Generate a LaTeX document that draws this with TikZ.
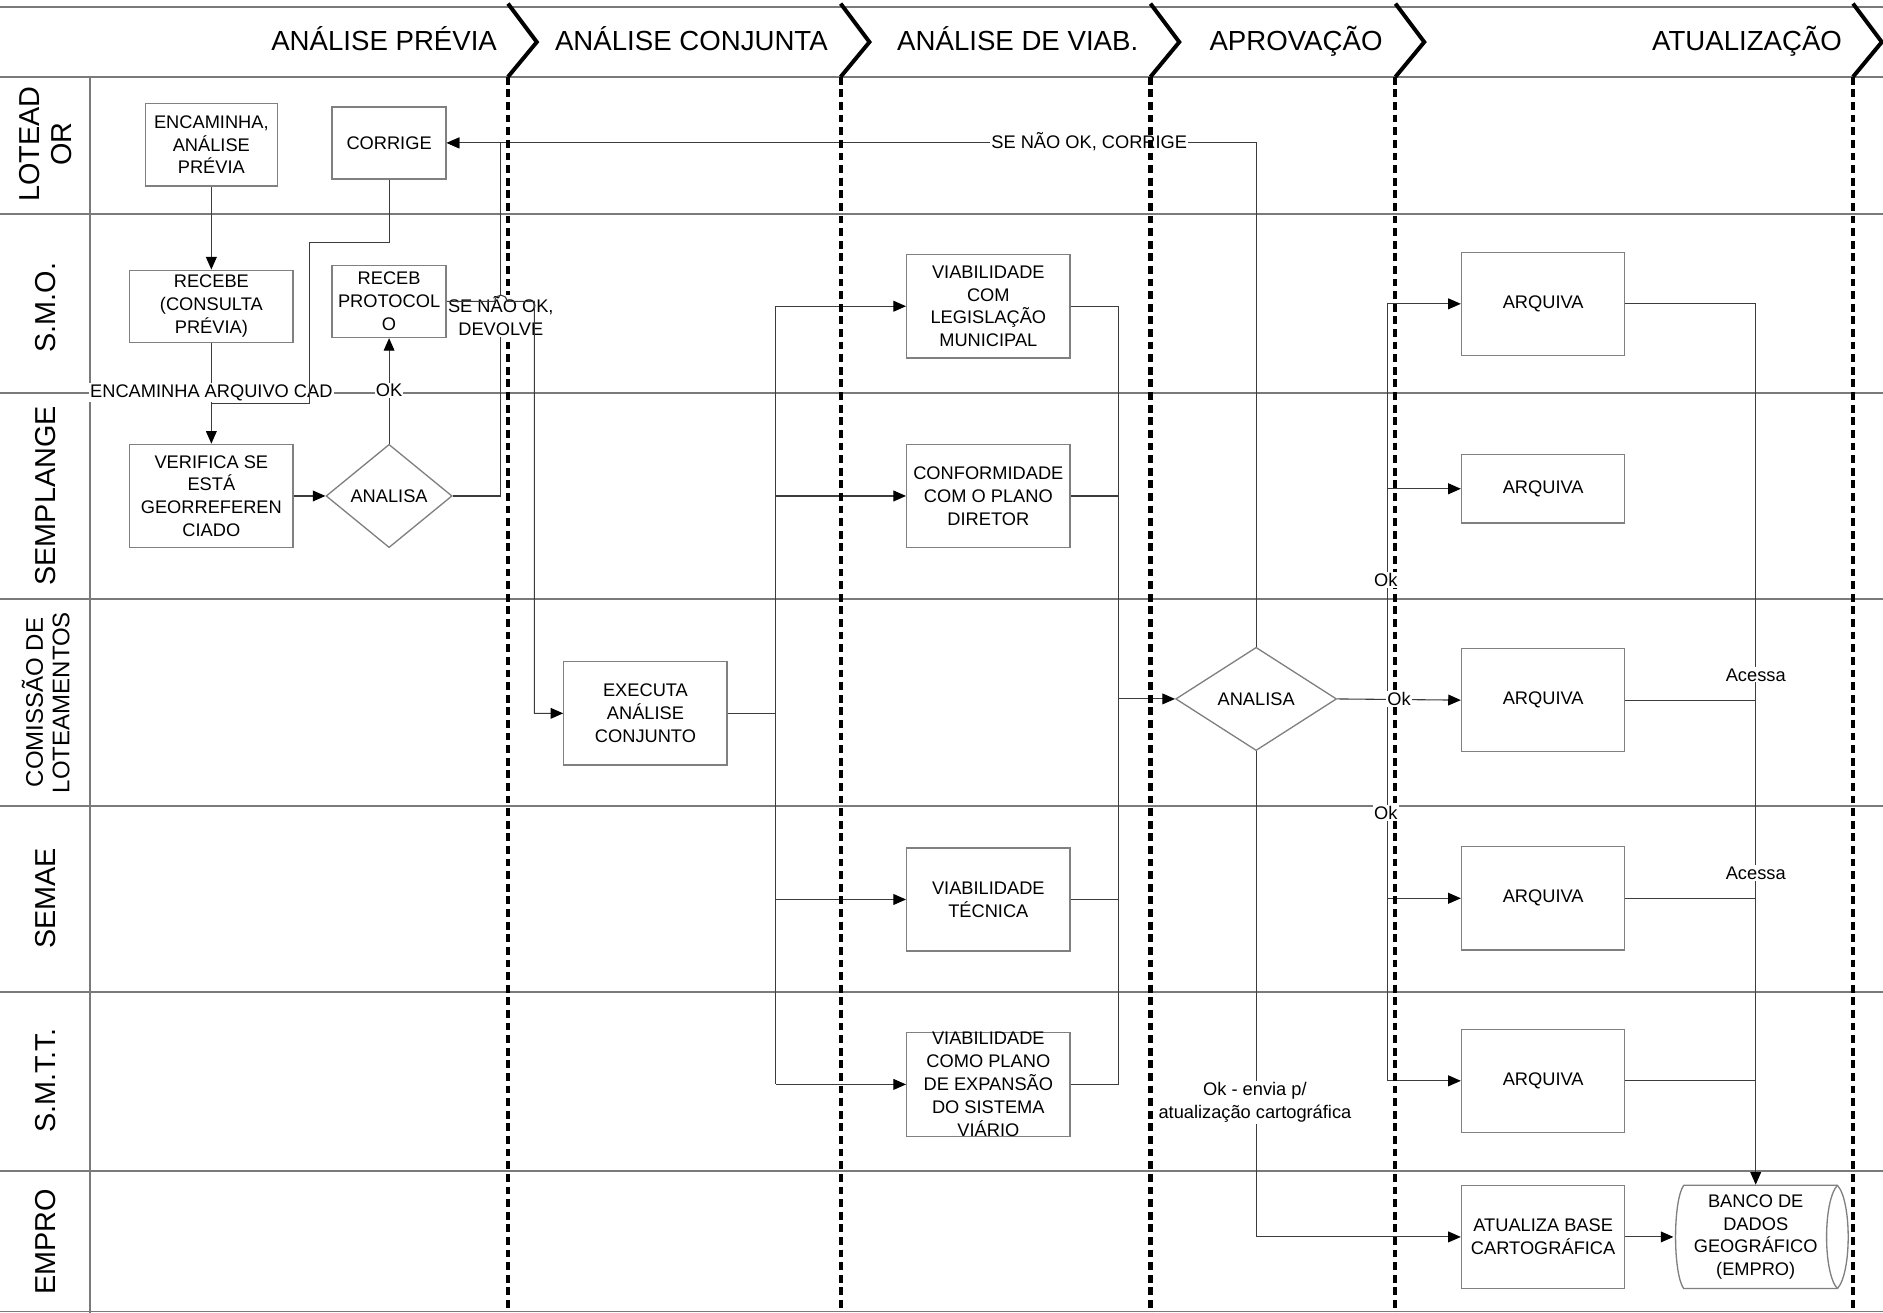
\documentclass[tikz,border=0pt]{standalone}
\usepackage{fontspec}
\setmainfont{Liberation Sans}
\usetikzlibrary{arrows.meta,shapes.geometric}
\definecolor{lanegray}{HTML}{7A7A7A}
\definecolor{boxgray}{HTML}{808080}
\definecolor{conngray}{HTML}{3C3C3C}
\newcommand\mybody{\fontsize{15.2}{19}\selectfont}
\newcommand\myhead{\fontsize{23}{27}\selectfont}
\newcommand\mylane{\fontsize{24}{26}\selectfont}
\newcommand\mylanesm{\fontsize{20}{22}\selectfont}
\tikzset{
  lane/.style={draw=lanegray, line width=1.4pt},
  box/.style={draw=boxgray, line width=1.1pt, rectangle, inner sep=0pt, align=center, font=\mybody},
  dia/.style={draw=boxgray, line width=1.1pt, diamond, inner sep=0pt, align=center, font=\mybody},
  conn/.style={draw=conngray, line width=0.9pt},
  arr/.style={conn, -{Triangle[length=10.5pt,width=9pt,color=black]}},
  chev/.style={line width=3.3pt, black, line join=miter},
  phase/.style={line width=3.4pt, black, dash pattern=on 6.5pt off 4pt},
  lbl/.style={fill=white, inner sep=1pt, font=\mybody, align=center},
  lanelbl/.style={rotate=90, align=center, inner sep=0pt},
  headlbl/.style={inner sep=0pt, font=\myhead}
}
\begin{document}
\begin{tikzpicture}[x=1pt,y=-1pt]
\useasboundingbox (0,0) rectangle (1568,1093);
\fill[white] (0,0) rectangle (1568,1093);

% grid
\foreach \yy in {6,64,178,327,499,671,826,975,1092}
  \draw[lane] (0,\yy) -- (1568,\yy);
\draw[lane] (75,64) -- (75,1093);

% lane labels
\node[lanelbl, font=\mylane] (lLot) at (38,120) {LOTEAD\\OR};
\node[lanelbl, font=\mylane] (lSmo) at (38,256) {S.M.O.};
\node[lanelbl, font=\mylane] (lSem) at (38,413) {SEMPLANGE};
\node[lanelbl, font=\mylanesm] (lCom) at (38,585) {COMISSÃO DE\\LOTEAMENTOS};
\node[lanelbl, font=\mylane] (lSae) at (38,748) {SEMAE};
\node[lanelbl, font=\mylane] (lSmt) at (38,900) {S.M.T.T.};
\node[lanelbl, font=\mylane] (lEmp) at (38,1034) {EMPRO};

% header labels
\node[headlbl, anchor=base east] (h1) at (414,42) {ANÁLISE PRÉVIA};
\node[headlbl, anchor=base west] (h2) at (462,42) {ANÁLISE CONJUNTA};
\node[headlbl, anchor=base east] (h3) at (948,42) {ANÁLISE DE VIAB.};
\node[headlbl, anchor=base west] (h4) at (1007,42) {APROVAÇÃO};
\node[headlbl, anchor=base east] (h5) at (1534,42) {ATUALIZAÇÃO};

% chevrons
\foreach \xx in {423,700,958,1162,1543}
  \draw[chev] (\xx,3) -- (\xx+24,35) -- (\xx,64);

% process nodes
\node[box, minimum width=110, minimum height=69] (enc) at (176,120.5) {ENCAMINHA,\\ANÁLISE\\PRÉVIA};
\node[box, minimum width=95, minimum height=60] (corr) at (324,119) {CORRIGE};
\node[box, minimum width=136, minimum height=60] (receb) at (176,255) {RECEBE\\(CONSULTA\\PRÉVIA)};
\node[box, minimum width=95, minimum height=60] (prot) at (324,251) {RECEB\\PROTOCOL\\O};
\node[box, minimum width=136, minimum height=86] (viab1) at (823,255) {VIABILIDADE\\COM\\LEGISLAÇÃO\\MUNICIPAL};
\node[box, minimum width=136, minimum height=86] (arq1) at (1285,253) {ARQUIVA};
\node[box, minimum width=136, minimum height=86] (verif) at (176,413) {VERIFICA SE\\ESTÁ\\GEORREFEREN\\CIADO};
\node[dia, minimum width=105, minimum height=86] (ana1) at (324,413) {ANALISA};
\node[box, minimum width=136, minimum height=86] (conf) at (823,413) {CONFORMIDADE\\COM O PLANO\\DIRETOR};
\node[box, minimum width=136, minimum height=57] (arq2) at (1285,407) {ARQUIVA};
\node[box, minimum width=136, minimum height=86] (exec) at (537.5,594) {EXECUTA\\ANÁLISE\\CONJUNTO};
\node[dia, minimum width=134, minimum height=86] (ana2) at (1046,582) {ANALISA};
\node[box, minimum width=136, minimum height=86] (arq3) at (1285,583) {ARQUIVA};
\node[box, minimum width=136, minimum height=86] (tec) at (823,749) {VIABILIDADE\\TÉCNICA};
\node[box, minimum width=136, minimum height=86] (arq4) at (1285,748) {ARQUIVA};
\node[box, minimum width=136, minimum height=86] (plano) at (823,903) {VIABILIDADE\\COMO PLANO\\DE EXPANSÃO\\DO SISTEMA\\VIÁRIO};
\node[box, minimum width=136, minimum height=86] (arq5) at (1285,900) {ARQUIVA};
\node[box, minimum width=136, minimum height=86] (atual) at (1285,1030) {ATUALIZA BASE\\CARTOGRÁFICA};
% storage (cylinder) node
\node[box, draw=none, minimum width=136, minimum height=86] (banco) at (1462,1030) {BANCO DE\\DADOS\\GEOGRÁFICO\\(EMPRO)};
\draw[draw=boxgray, line width=1.1pt]
  (1402,987) -- (1530,987)
  .. controls (1542,1000) and (1542,1060) .. (1530,1073)
  -- (1402,1073)
  .. controls (1393,1060) and (1393,1000) .. (1402,987);
\draw[draw=boxgray, line width=1.1pt]
  (1530,987) .. controls (1518,1000) and (1518,1060) .. (1530,1073);

% trunk coordinates
\coordinate (c1) at (258,202);
\coordinate (c2) at (176,336);
\coordinate (c3) at (417,119);
\coordinate (c4) at (445,251);
\coordinate (t1top) at (646,255);
\coordinate (t1bot) at (646,903);
\coordinate (t2top) at (931,255);
\coordinate (t2bot) at (931,903);
\coordinate (t3top) at (1155,253);
\coordinate (t3bot) at (1155,900);

% connectors
\draw[arr] (enc.south) -- (receb.north);
\draw[arr] (receb.south) -- (verif.north);
\draw[arr] (verif.east) -- (ana1.west);
\draw[arr] (ana1.north) -- (prot.south);
\draw[arr] (ana1.east) -| (c3) -- (corr.east);
\draw[arr] (ana2.north) |- (corr.east);

\draw[conn] (exec.east) -- (exec.east -| t1top);
\draw[conn] (t1top) -- (t1bot);
\draw[arr] (t1top) -- (viab1.west);
\draw[arr] (conf.west -| t1top) -- (conf.west);
\draw[arr] (tec.west -| t1top) -- (tec.west);
\draw[arr] (t1bot) -- (plano.west);

\draw[conn] (viab1.east) -- (t2top) -- (t2bot) -- (plano.east);
\draw[conn] (conf.east) -- (conf.east -| t2top);
\draw[conn] (tec.east) -- (tec.east -| t2top);
\draw[arr] (ana2.west -| t2top) -- (ana2.west);

\draw[arr] (ana2.east) -- (arq3.west);
\draw[conn] (t3top) -- (t3bot);
\draw[arr] (t3top) -- (arq1.west);
\draw[arr] (arq2.west -| t3top) -- (arq2.west);
\draw[arr] (arq4.west -| t3top) -- (arq4.west);
\draw[arr] (t3bot) -- (arq5.west);

\draw[arr] (ana2.south) |- (atual.west);
\draw[arr] (atual.east) -- (banco.west);
\draw[arr] (arq1.east) -| (banco.north);
\draw[conn] (arq3.east) -- (arq3.east -| banco.north);
\draw[conn] (arq4.east) -- (arq4.east -| banco.north);
\draw[conn] (arq5.east) -- (arq5.east -| banco.north);

% label drawn under the phase lines
\node[lbl] (lSNC) at (907,118) {SE NÃO OK, CORRIGE};

% phase lines
\foreach \xx in {423,700,958,1162,1543}
  \draw[phase] (\xx,64) -- (\xx,1093);

% labels
\node[lbl] (lEAC) at (176,327) {ENCAMINHA ARQUIVO CAD};
\node[lbl] (lOK) at (324,325) {OK};
\node[lbl] (lDEV) at (417,263) {SE NÃO OK,\\DEVOLVE};
\node[lbl] (lOk1) at (1165,582) {Ok};
\node[lbl] (lOk2) at (1154,483) {Ok};
\node[lbl] (lOk3) at (1154,677) {Ok};
\node[lbl] (lAc1) at (1462,562) {Acessa};
\node[lbl] (lAc2) at (1462,727) {Acessa};
\node[lbl] (lEnv) at (1045,918) {Ok - envia p/\\atualização cartográfica};

% connectors drawn over labels
\draw[conn] (corr.south) -- (corr.south |- c1) -- (c1) -- (c1 |- c2) -- (c2);
\draw[arr] (prot.east) -- ++(40,0) .. controls +(0,-7) and +(0,-7) .. ++(10,0) -- (c4) |- (exec.west);
\end{tikzpicture}
\end{document}
